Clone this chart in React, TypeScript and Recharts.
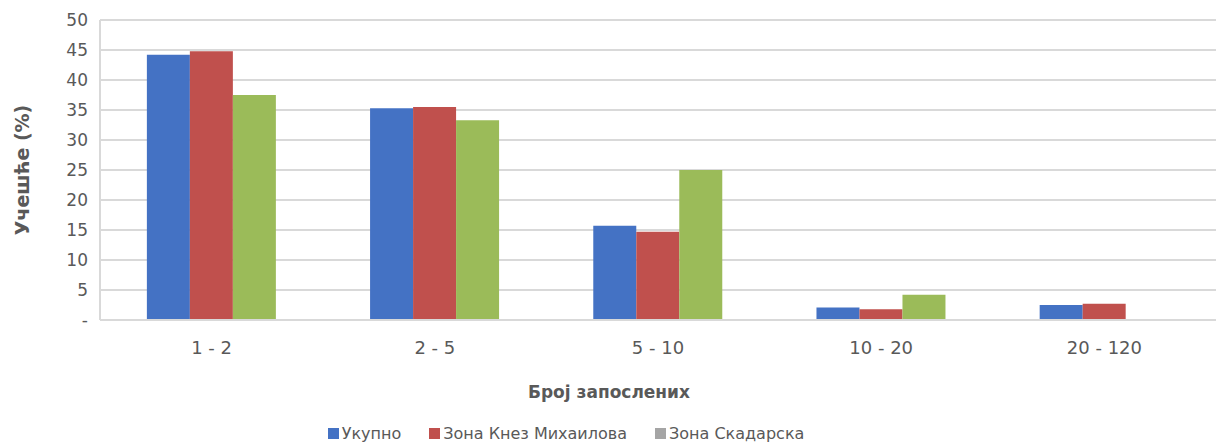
import React from "react";
import {
  BarChart,
  Bar,
  XAxis,
  YAxis,
  CartesianGrid,
  Legend,
  Label,
} from "recharts";

const categories = ["1 - 2", "2 - 5", "5 - 10", "10 - 20", "20 - 120"];
const ukupno = [44.2, 35.3, 15.7, 2.1, 2.5];
const knezMihailova = [44.8, 35.5, 14.7, 1.8, 2.7];
const skadarska = [37.5, 33.3, 25.0, 4.2, 0];
const yTicks = [0, 5, 10, 15, 20, 25, 30, 35, 40, 45, 50];

const series = [
  { key: "ukupno", name: "Укупно", fill: "#4472c4", legendFill: "#4472c4" },
  { key: "knez", name: "Зона Кнез Михаилова", fill: "#c0504d", legendFill: "#c0504d" },
  { key: "skadarska", name: "Зона Скадарска", fill: "#9bbb59", legendFill: "#a5a5a5" },
];

const data = categories.map((c, i) => ({
  category: c,
  ukupno: ukupno[i],
  knez: knezMihailova[i],
  skadarska: skadarska[i],
}));

const FONT = "DejaVu Sans, Tahoma, sans-serif";
const TEXT = "#595959";
const CHART_W = 1218;

const LegendBox = () => (
  <div
    style={{
      display: "flex",
      justifyContent: "center",
      alignItems: "center",
      height: 26,
      fontFamily: FONT,
      fontSize: 16,
      color: TEXT,
      gap: 28,
      transform: "translateX(-42px)",
    }}
  >
    {series.map((s) => (
      <div key={s.key} style={{ display: "flex", alignItems: "center" }}>
        <span
          style={{
            display: "inline-block",
            width: 11,
            height: 11,
            background: s.legendFill,
            marginRight: 3,
          }}
        />
        {s.name}
      </div>
    ))}
  </div>
);

// x-axis title is centred on the whole chart, not on the plot area
const XTitle = ({ viewBox }: any) => (
  <text
    x={CHART_W / 2}
    y={viewBox.y + 73}
    textAnchor="middle"
    dominantBaseline="middle"
    fill={TEXT}
    fontSize={17}
    fontWeight="bold"
    fontFamily={FONT}
  >
    Број запослених
  </text>
);

export default function App() {
  return (
    <div style={{ position: "absolute", left: 0, top: 0, background: "#fff" }}>
      <BarChart
        width={CHART_W}
        height={446}
        data={data}
        margin={{ top: 20, right: 2, left: 0, bottom: 0 }}
        barCategoryGap="21%"
        barGap={0}
      >
        <CartesianGrid vertical={false} stroke="#d9d9d9" strokeWidth={2} />
        <XAxis
          dataKey="category"
          height={100}
          tickLine={false}
          tickSize={0}
          tickMargin={21}
          axisLine={{ stroke: "#d9d9d9", strokeWidth: 2 }}
          tick={{ fill: TEXT, fontSize: 18, fontFamily: FONT }}
        >
          <Label content={XTitle} />
        </XAxis>
        <YAxis
          width={100}
          domain={[0, 50]}
          ticks={yTicks}
          interval={0}
          tickLine={false}
          tickSize={0}
          tickMargin={12}
          axisLine={{ stroke: "#d9d9d9", strokeWidth: 2 }}
          tick={{ fill: TEXT, fontSize: 17, fontFamily: FONT }}
          tickFormatter={(v: number) => (v === 0 ? "-" : String(v))}
        >
          <Label
            value="Учешће (%)"
            angle={-90}
            position="insideLeft"
            offset={22}
            style={{
              fill: TEXT,
              fontSize: 19,
              fontWeight: "bold",
              fontFamily: FONT,
              textAnchor: "middle",
            }}
          />
        </YAxis>
        <Legend verticalAlign="bottom" height={26} content={() => <LegendBox />} />
        {series.map((s) => (
          <Bar
            key={s.key}
            dataKey={s.key}
            name={s.name}
            fill={s.fill}
            isAnimationActive={false}
          />
        ))}
      </BarChart>
    </div>
  );
}
